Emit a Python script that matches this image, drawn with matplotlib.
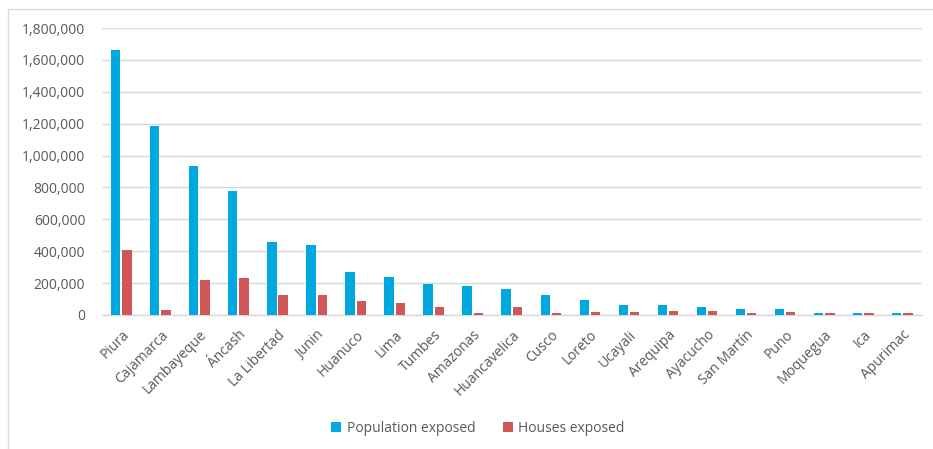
import matplotlib.pyplot as plt
import numpy as np
from matplotlib.patches import Rectangle
from matplotlib.ticker import FuncFormatter


OUTPUT_PATH = "out.png"

regions = [
    "Piura", "Cajamarca", "Lambayeque", "Áncash", "La Libertad", "Junin",
    "Huanuco", "Lima", "Tumbes", "Amazonas", "Huancavelica", "Cusco",
    "Loreto", "Ucayali", "Arequipa", "Ayacucho", "San Martín", "Puno",
    "Moquegua", "Ica", "Apurimac"
]

population_exposed = [
    1660000, 1185000, 932000, 777000, 458000, 439000,
    270000, 236000, 196000, 179000, 163000, 127000,
    94000, 60000, 62000, 50000, 36000, 36000,
    10000, 10000, 10000
]

houses_exposed = [
    407000, 33000, 219000, 230000, 127000, 127000,
    86000, 77000, 52000, 10000, 52000, 10000,
    21000, 21000, 25000, 25000, 11000, 19000,
    10000, 10000, 10000
]

y_ticks = [0, 200000, 400000, 600000, 800000, 1000000, 1200000, 1400000, 1600000, 1800000]

BLUE = "#00A8E0"
RED = "#D05759"
TEXT = "#595959"
GRID = "#D9D9D9"

plt.rcParams["font.family"] = ["Open Sans", "DejaVu Sans"]

fig = plt.figure(figsize=(9.33, 4.49), dpi=100)
ax = fig.add_axes([102 / 933, 1 - 315 / 449, 820 / 933, 287 / 449])

# light border of the chart area
fig.patches.append(Rectangle(
    (8 / 933, -0.05), 1.0, 1 - 9 / 449 + 0.05,
    transform=fig.transFigure, fill=False,
    edgecolor="#D9D9D9", linewidth=1
))

x = np.arange(len(regions))
bar_w = 0.24

ax.bar(x - 0.15, population_exposed, width=bar_w, color=BLUE,
       label="Population exposed", zorder=3)
ax.bar(x + 0.14, houses_exposed, width=bar_w, color=RED,
       label="Houses exposed", zorder=3)

ax.set_xlim(-0.5, len(regions) - 0.5)
ax.set_ylim(0, 1800000)
ax.set_yticks(y_ticks)
ax.yaxis.set_major_formatter(FuncFormatter(lambda v, p: f"{int(v):,}"))
ax.grid(axis="y", color=GRID, linewidth=1, zorder=0)

for side in ["top", "right", "left"]:
    ax.spines[side].set_visible(False)
ax.spines["bottom"].set_color(GRID)
ax.spines["bottom"].set_linewidth(1)

ax.tick_params(axis="y", length=0, pad=12, labelsize=10, labelcolor=TEXT)
ax.tick_params(axis="x", length=0, pad=9, labelsize=10, labelcolor=TEXT)

ax.set_xticks(x)
ax.set_xticklabels(regions, rotation=45, ha="right", va="top",
                   rotation_mode="anchor")

leg = fig.legend(
    loc="center", bbox_to_anchor=(478 / 933, 1 - 428 / 449),
    ncol=2, frameon=False, fontsize=10,
    handlelength=0.7, handleheight=0.7, handletextpad=0.4,
    columnspacing=2.0
)
for t in leg.get_texts():
    t.set_color(TEXT)

fig.savefig(OUTPUT_PATH, dpi=100)
plt.close(fig)
